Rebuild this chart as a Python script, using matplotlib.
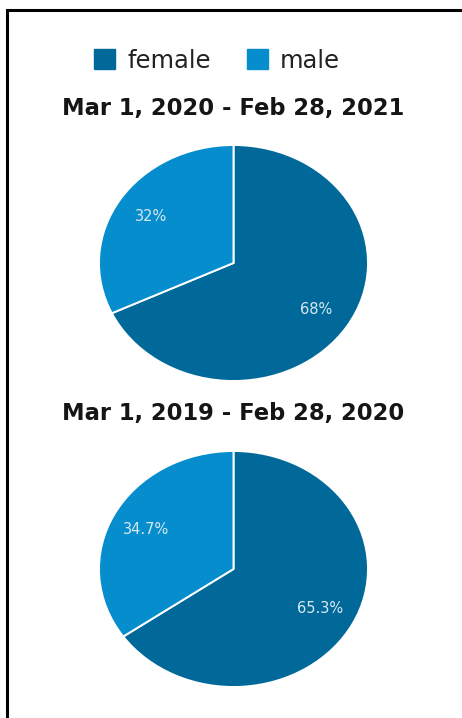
import matplotlib
matplotlib.use("Agg")
import matplotlib.pyplot as plt
from matplotlib.patches import Rectangle

plt.rcParams['font.family'] = ['DejaVu Sans']

# gender split per period
series_names = ['female', 'male']
series_colors = ['#00699a', '#068dcd']
periods = ['Mar 1, 2020 - Feb 28, 2021', 'Mar 1, 2019 - Feb 28, 2020']
female_share = [68, 65.3]
male_share = [32, 34.7]

W, H = 462, 718
fig = plt.figure(figsize=(W / 100, H / 100), dpi=100)


def px_axes(left, top, width, height):
    return fig.add_axes([left / W, 1 - (top + height) / H, width / W, height / H])


# outer frame, open at right and bottom
fig.patches.append(Rectangle((7.5 / W, -0.1), 1.2, 1 - 10.5 / H + 0.1,
                             transform=fig.transFigure, fill=False,
                             edgecolor='black', linewidth=2.2))

# legend row
legend_ax = px_axes(0, 40, W, 40)
legend_ax.set_xlim(0, W)
legend_ax.set_ylim(40, 0)
legend_ax.axis('off')
for name, color, x in zip(series_names, series_colors, [94, 247]):
    legend_ax.add_patch(Rectangle((x, 9), 21, 20, color=color))
    legend_ax.text(x + 33, 28, name, fontsize=17.5, color='#222222',
                   va='baseline', ha='left')

pie_tops = [145, 451]
title_y = [108.5, 414]
for title, f, m, top, ty in zip(periods, female_share, male_share, pie_tops, title_y):
    fig.text(233 / W, 1 - ty / H, title, fontsize=16.3, fontweight='bold',
             ha='center', va='center', color='#151515')
    ax = px_axes(99, top, 269, 236)
    vals = [f, m]
    wedges, texts, autotexts = ax.pie(
        vals, colors=series_colors, startangle=90, counterclock=False,
        autopct='%1.1f%%', pctdistance=0.73,
        wedgeprops=dict(edgecolor='white', linewidth=1.4),
        textprops=dict(color='#d8e8f2', fontsize=10.5))
    for t, v in zip(autotexts, vals):
        t.set_text('{:g}%'.format(v))
    for w in wedges:
        w.set_clip_on(False)
    ax.set_aspect('auto')
    ax.set_xlim(-1, 1)
    ax.set_ylim(-1, 1)
    ax.axis('off')

fig.savefig('out.png', dpi=100)
